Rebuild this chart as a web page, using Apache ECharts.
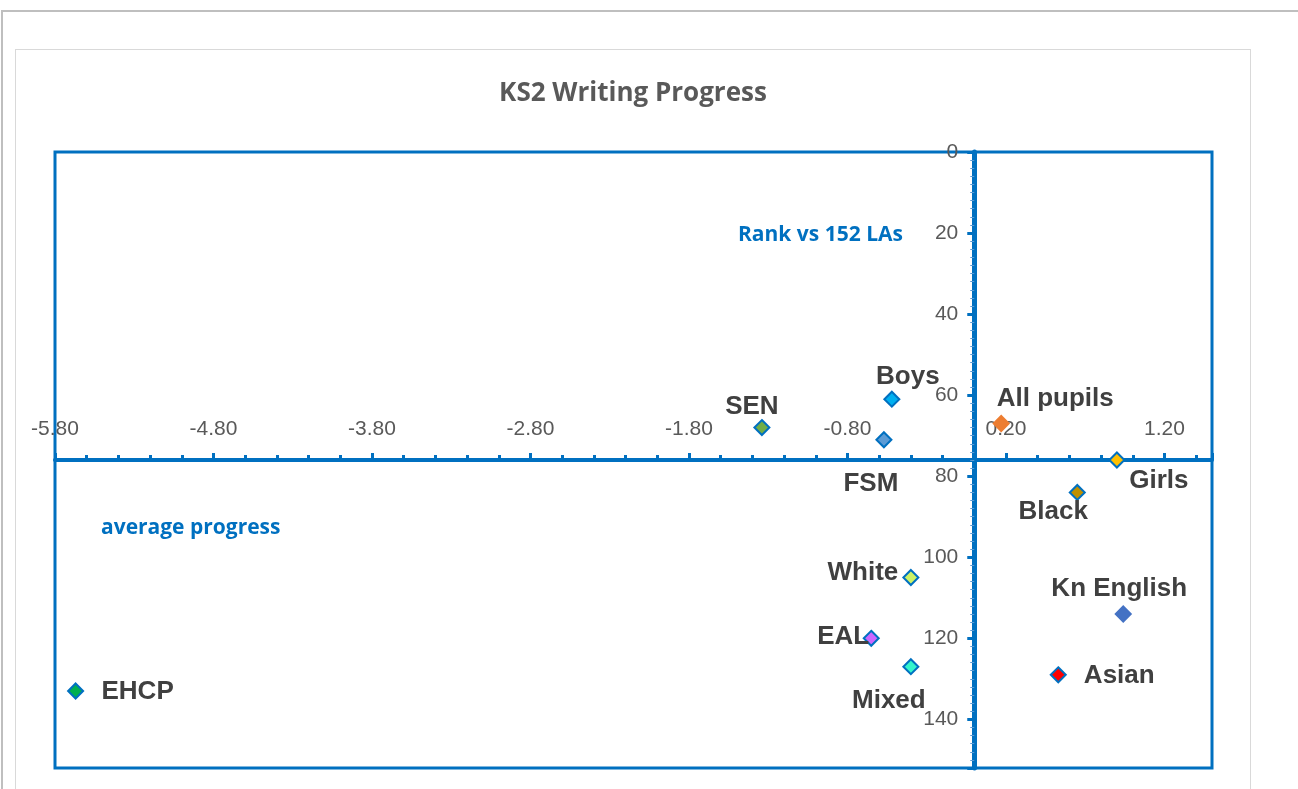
<!DOCTYPE html>
<html>
<head>
<meta charset="utf-8">
<title>KS2 Writing Progress</title>
<script src="https://cdn.jsdelivr.net/npm/echarts@6/dist/echarts.min.js"></script>
<style>
  html, body { margin: 0; padding: 0; background: #fff; width: 1298px; height: 789px; overflow: hidden; }
  #outer { position: absolute; left: 1px; top: 10px; right: 0; bottom: 0; border-top: 2px solid #bfbfbf; border-left: 2px solid #bfbfbf; }
  #box { position: absolute; left: 15px; top: 49px; width: 1234px; height: 760px; border: 1px solid #d9d9d9; }
  #main { position: absolute; left: 16px; top: 50px; width: 1234px; height: 739px; }
</style>
</head>
<body>
<div id="outer"></div>
<div id="box"></div>
<div id="main"></div>
<script>
// groups, average progress (x) and rank vs 152 LAs (y, reversed)
const groups   = ['EHCP', 'SEN', 'Boys', 'FSM', 'All pupils', 'Girls', 'Black', 'White', 'Kn English', 'EAL', 'Mixed', 'Asian'];
const progress = [-5.67, -1.34, -0.52, -0.57, 0.17, 0.90, 0.65, -0.40, 0.94, -0.65, -0.40, 0.53];
const rank     = [133, 68, 61, 71, 67, 76, 84, 105, 114, 120, 127, 129];

const xMin = -5.8, xMax = 1.5, xStep = 1;
const rankMax = 152, rankStep = 20;
const xCrossRank = 76;   // horizontal axis crosses the rank axis here
const yCrossProgress = 0; // vertical axis crosses at progress 0

// marker fills
const fills = ['#00B050', '#70AD47', '#00B0F0', '#5B9BD5', '#ED7D31', '#FFC000', '#BF9000', '#CCF266', '#4472C4', '#CC66FF', '#33F5CC', '#FF0000'];
const noBorder = ['All pupils', 'Kn English'];
// where each label sits relative to its marker
const labelOffset = {
  'EHCP': [62, 1], 'SEN': [-10, -21], 'Boys': [16, -22], 'FSM': [-13, 44],
  'All pupils': [54, -25], 'Girls': [42, 21], 'Black': [-24, 19], 'White': [-48, -5],
  'Kn English': [-4, -25], 'EAL': [-28, -1], 'Mixed': [-22, 34], 'Asian': [61, 1]
};

const blue = '#0070C0';
const grid = { left: 39, right: 38, top: 102, bottom: 21 };
const W = 1234, H = 739;
const gridW = W - grid.left - grid.right;
const gridH = H - grid.top - grid.bottom;

const chart = echarts.init(document.getElementById('main'));

const points = groups.map((g, i) => ({
  name: g,
  value: [progress[i], rank[i]],
  itemStyle: { color: fills[i], borderColor: noBorder.includes(g) ? fills[i] : blue },
  label: { offset: labelOffset[g] }
}));

chart.setOption({
  animation: false,
  title: [
    { text: 'KS2 Writing Progress', left: 'center', top: 31, padding: 0,
      textStyle: { fontFamily: 'Open Sans', fontSize: 26, fontWeight: 'bold', color: '#595959' } },
    { text: 'Rank vs 152 LAs', left: 722, top: 175, padding: 0,
      textStyle: { fontFamily: 'Open Sans', fontSize: 21, fontWeight: 'bold', color: blue } },
    { text: 'average progress', left: 85, top: 468, padding: 0,
      textStyle: { fontFamily: 'Open Sans', fontSize: 21, fontWeight: 'bold', color: blue } }
  ],
  grid: Object.assign({ show: true, borderColor: blue, borderWidth: 3, outerBoundsMode: 'none', containLabel: false }, grid),
  xAxis: [
    { // visible scale, counted from the left edge so ticks fall on -5.80, -4.80 ...
      type: 'value', position: 'top', min: 0, max: xMax - xMin, interval: xStep,
      offset: -gridH * xCrossRank / rankMax,
      axisLine: { onZero: false, lineStyle: { color: blue, width: 4 } },
      axisTick: { show: true, length: 7, lineStyle: { color: blue, width: 3 } },
      minorTick: { show: true, splitNumber: 5, length: 5, lineStyle: { color: blue, width: 3 } },
      axisLabel: {
        margin: 20, fontSize: 21, color: '#595959', fontFamily: 'Liberation Sans',
        showMaxLabel: false,
        formatter: v => (v + xMin).toFixed(2)
      },
      splitLine: { show: false }
    },
    { type: 'value', min: xMin, max: xMax, show: false, axisLine: { onZero: false } }
  ],
  yAxis: [
    {
      type: 'value', inverse: true, min: 0, max: rankMax, interval: rankStep,
      position: 'left',
      offset: -gridW * (yCrossProgress - xMin) / (xMax - xMin),
      axisLine: { onZero: false, lineStyle: { color: blue, width: 5 } },
      axisTick: { show: true, length: 7, lineStyle: { color: blue, width: 3 } },
      minorTick: { show: true, splitNumber: 10, length: 4, lineStyle: { color: '#5B9BD5', width: 1 } },
      axisLabel: { margin: 16, fontSize: 21, color: '#595959', fontFamily: 'Liberation Sans', showMaxLabel: false },
      splitLine: { show: false }
    }
  ],
  series: [{
    type: 'scatter',
    xAxisIndex: 1,
    yAxisIndex: 0,
    symbol: 'diamond',
    symbolSize: 15,
    itemStyle: { borderWidth: 2, opacity: 1 },
    label: {
      show: true, position: 'inside', formatter: '{b}',
      fontFamily: 'Liberation Sans', fontSize: 26, fontWeight: 'bold', color: '#404040'
    },
    data: points
  }]
});
</script>
</body>
</html>
